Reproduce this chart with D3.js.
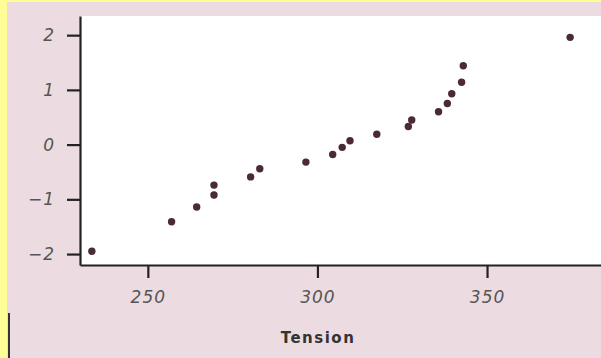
<!DOCTYPE html>
<html>
<head>
<meta charset="utf-8">
<script src="https://cdn.jsdelivr.net/npm/d3@7"></script>
<style>
  body { margin: 0; background: #fffe96; }
  svg { display: block; }
</style>
</head>
<body>
<div class="chart"></div>
<script>
// tension readings and their normal scores
var tension = [233.5, 257, 264.4, 269.5, 269.5, 280.3, 283, 296.6, 304.5, 307.3,
               309.6, 317.5, 326.8, 327.8, 335.7, 338.3, 339.6, 342.5, 343, 374.5];
var nscore = [-1.95, -1.41, -1.14, -0.92, -0.74, -0.59, -0.44, -0.32, -0.18, -0.05,
              0.07, 0.19, 0.33, 0.45, 0.60, 0.75, 0.93, 1.14, 1.44, 1.96];
var xTicks = [250, 300, 350];
var yTicks = [-2, -1, 0, 1, 2];

var width = 601, height = 358;
var margin = {top: 16, right: 0, bottom: 93, left: 80};

var svg = d3.select(".chart").append("svg")
    .attr("width", width)
    .attr("height", height);

// page backdrop: yellow edges, pinkish card
svg.append("rect").attr("width", width).attr("height", height).attr("fill", "#fffe96");
svg.append("rect").attr("x", 7).attr("y", 2).attr("width", width - 7).attr("height", height - 2)
    .attr("fill", "#ecdce1");
svg.append("rect").attr("x", 8).attr("y", 313).attr("width", 2).attr("height", 45).attr("fill", "#333");

var x = d3.scaleLinear().domain([230, 383.6]).range([margin.left, width - margin.right]);
var y = d3.scaleLinear().domain([-2.2, 2.35]).range([height - margin.bottom, margin.top]);

svg.append("rect")
    .attr("x", margin.left).attr("y", margin.top)
    .attr("width", width - margin.left - margin.right)
    .attr("height", height - margin.bottom - margin.top)
    .attr("fill", "#fff");

var xAxis = svg.append("g")
    .attr("transform", "translate(0," + (height - margin.bottom) + ")")
    .call(d3.axisBottom(x).tickValues(xTicks).tickSizeInner(13).tickSizeOuter(0)
      .tickPadding(13).tickFormat(d3.format("d")));

var yAxis = svg.append("g")
    .attr("transform", "translate(" + margin.left + ",0)")
    .call(d3.axisLeft(y).tickValues(yTicks).tickSizeInner(13).tickSizeOuter(0).tickPadding(12)
      .tickFormat(function(d) { return d < 0 ? "\u2212" + (-d) : d; }));

[xAxis, yAxis].forEach(function(a) {
  a.select(".domain").attr("stroke", "#222").attr("stroke-width", 2.2);
  a.selectAll(".tick line").attr("stroke", "#222").attr("stroke-width", 2.2);
  a.selectAll(".tick text")
    .attr("fill", "#555")
    .style("font-family", "'DejaVu Sans', sans-serif")
    .style("font-style", "italic")
    .style("font-size", "17px")
    .style("letter-spacing", "1px");
});

svg.append("text")
    .attr("x", 318).attr("y", 343)
    .attr("text-anchor", "middle")
    .attr("fill", "#333")
    .style("font-family", "'DejaVu Sans', sans-serif")
    .style("font-weight", "bold")
    .style("font-size", "15px")
    .style("letter-spacing", "1.5px")
    .text("Tension");

svg.selectAll(".dot")
    .data(tension)
    .enter().append("circle")
    .attr("class", "dot")
    .attr("cx", function(d) { return x(d); })
    .attr("cy", function(d, i) { return y(nscore[i]); })
    .attr("r", 3.7)
    .attr("fill", "#4a2a36");
</script>
</body>
</html>
